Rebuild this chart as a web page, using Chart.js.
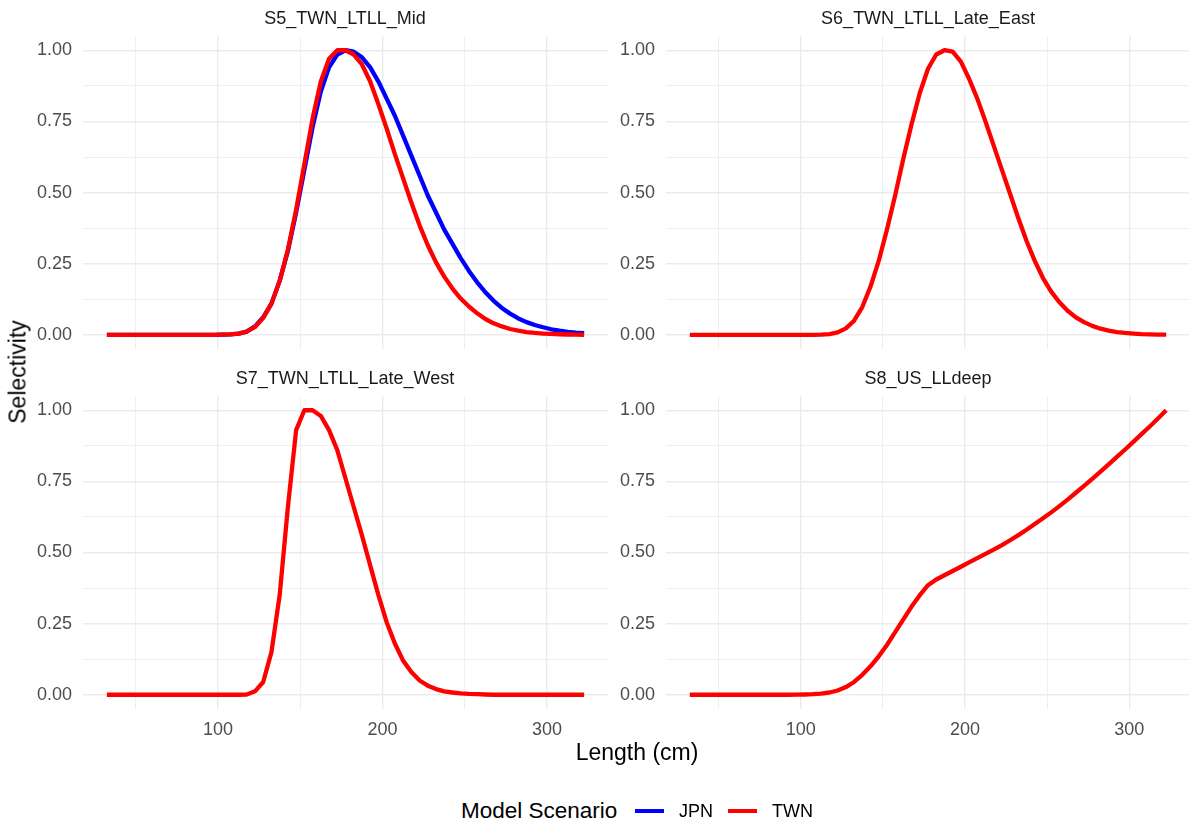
<!DOCTYPE html>
<html>
<head>
<meta charset="utf-8">
<script src="https://cdn.jsdelivr.net/npm/chart.js@4.4.1/dist/chart.umd.min.js"></script>
<style>
  body { margin: 0; background: #fff; overflow: hidden; font-family: "Liberation Sans", Arial, sans-serif; }
  #wrap { position: relative; width: 1189px; height: 829px; }
  canvas { position: absolute; }
  .strip { position: absolute; font-size: 18px; color: #1a1a1a; transform: translate(-50%, -50%); white-space: nowrap; }
  .axt { position: absolute; font-size: 23px; color: #000; white-space: nowrap; transform: translate(-50%, -50%); }
  .lg { position: absolute; white-space: nowrap; transform: translateY(-50%); color: #000; }
  .key { position: absolute; height: 4px; width: 29px; transform: translateY(-50%); }
</style>
</head>
<body>
<div id="wrap">
  <canvas id="p5" width="608" height="371" style="left:0;top:0"></canvas>
  <canvas id="p6" width="600" height="371" style="left:590px;top:0"></canvas>
  <canvas id="p7" width="608" height="380" style="left:0;top:360px"></canvas>
  <canvas id="p8" width="600" height="380" style="left:590px;top:360px"></canvas>

  <div class="strip" style="left:345px;top:18px">S5_TWN_LTLL_Mid</div>
  <div class="strip" style="left:928px;top:18px">S6_TWN_LTLL_Late_East</div>
  <div class="strip" style="left:345px;top:378px">S7_TWN_LTLL_Late_West</div>
  <div class="strip" style="left:928px;top:378px">S8_US_LLdeep</div>

  <div class="axt" style="left:637px;top:752px">Length (cm)</div>
  <div class="axt" style="left:18px;top:372px;transform:translate(-50%,-50%) rotate(-90deg)">Selectivity</div>

  <div class="lg" style="left:461px;top:811px;font-size:22.5px">Model Scenario</div>
  <div class="key" style="left:635px;top:811px;background:#0000ff"></div>
  <div class="lg" style="left:679px;top:811px;font-size:18px">JPN</div>
  <div class="key" style="left:728px;top:811px;background:#ff0000"></div>
  <div class="lg" style="left:772px;top:811px;font-size:18px">TWN</div>
</div>
<script>
// length bins (cm)
var lengths = [32.5, 37.5, 42.5, 47.5, 52.5, 57.5, 62.5, 67.5, 72.5, 77.5,
  82.5, 87.5, 92.5, 97.5, 102.5, 107.5, 112.5, 117.5, 122.5, 127.5,
  132.5, 137.5, 142.5, 147.5, 152.5, 157.5, 162.5, 167.5, 172.5, 177.5,
  182.5, 187.5, 192.5, 197.5, 202.5, 207.5, 212.5, 217.5, 222.5, 227.5,
  232.5, 237.5, 242.5, 247.5, 252.5, 257.5, 262.5, 267.5, 272.5, 277.5,
  282.5, 287.5, 292.5, 297.5, 302.5, 307.5, 312.5, 317.5, 322.5];

var s5_jpn = [0, 0, 0, 0, 0, 0, 0, 0, 0, 0,
  0, 0, 0, 0, 0.001, 0.002, 0.005, 0.012, 0.03, 0.062,
  0.11, 0.19, 0.295, 0.43, 0.58, 0.73, 0.855, 0.94, 0.985, 1.0,
  0.995, 0.975, 0.94, 0.89, 0.83, 0.77, 0.70, 0.63, 0.56, 0.49,
  0.43, 0.37, 0.32, 0.27, 0.225, 0.185, 0.15, 0.12, 0.095, 0.075,
  0.058, 0.045, 0.035, 0.027, 0.02, 0.015, 0.011, 0.008, 0.006];

var s5_twn = [0, 0, 0, 0, 0, 0, 0, 0, 0, 0,
  0, 0, 0, 0, 0.001, 0.002, 0.005, 0.012, 0.028, 0.06,
  0.11, 0.19, 0.30, 0.44, 0.60, 0.76, 0.89, 0.97, 1.0, 1.0,
  0.985, 0.95, 0.89, 0.81, 0.725, 0.635, 0.55, 0.465, 0.385, 0.315,
  0.255, 0.205, 0.163, 0.128, 0.10, 0.076, 0.056, 0.041, 0.03, 0.021,
  0.015, 0.01, 0.007, 0.005, 0.0035, 0.0025, 0.0017, 0.0012, 0.0008];

var s6_twn = [0, 0, 0, 0, 0, 0, 0, 0, 0, 0,
  0, 0, 0, 0, 0, 0.0005, 0.001, 0.003, 0.009, 0.023,
  0.05, 0.098, 0.17, 0.26, 0.37, 0.49, 0.62, 0.74, 0.85, 0.935,
  0.985, 1.0, 0.995, 0.96, 0.90, 0.83, 0.75, 0.665, 0.58, 0.495,
  0.41, 0.33, 0.26, 0.20, 0.152, 0.115, 0.085, 0.062, 0.045, 0.032,
  0.022, 0.015, 0.01, 0.007, 0.005, 0.003, 0.002, 0.0015, 0.001];

var s7_twn = [0, 0, 0, 0, 0, 0, 0, 0, 0, 0,
  0, 0, 0, 0, 0, 0, 0, 0.001, 0.012, 0.045,
  0.15, 0.35, 0.66, 0.93, 1.0, 1.0, 0.98, 0.93, 0.86, 0.76,
  0.66, 0.56, 0.455, 0.35, 0.255, 0.18, 0.12, 0.08, 0.05, 0.032,
  0.02, 0.012, 0.008, 0.005, 0.003, 0.002, 0.001, 0, 0, 0,
  0, 0, 0, 0, 0, 0, 0, 0, 0];

var s8_twn = [0, 0, 0, 0, 0, 0, 0, 0, 0, 0,
  0, 0, 0, 0.0005, 0.001, 0.002, 0.004, 0.008, 0.015, 0.027,
  0.045, 0.07, 0.1, 0.135, 0.175, 0.22, 0.265, 0.31, 0.35, 0.385,
  0.405, 0.42, 0.435, 0.45, 0.465, 0.48, 0.495, 0.51, 0.526, 0.543,
  0.561, 0.58, 0.60, 0.62, 0.641, 0.663, 0.686, 0.71, 0.734, 0.759,
  0.784, 0.81, 0.836, 0.862, 0.889, 0.916, 0.943, 0.971, 1.0];

var xTicks = [50, 100, 150, 200, 250, 300];
var yTicks = [0, 0.125, 0.25, 0.375, 0.5, 0.625, 0.75, 0.875, 1];

var JPN_COLOR = '#0000ff', TWN_COLOR = '#ff0000';
var FONT = "'Liberation Sans', Arial, sans-serif";

function pts(vals) {
    var out = [];
    for (var i = 0; i < lengths.length; i++) {
        out.push({x: lengths[i], y: vals[i]});
    }
    return out;
}

function series(label, vals, color, order) {
    return {
        label: label,
        data: pts(vals),
        borderColor: color,
        backgroundColor: color,
        borderWidth: 4.3,
        borderJoinStyle: 'round',
        pointRadius: 0,
        tension: 0,
        order: order
    };
}

function isMajor(v, step) {
    return Math.abs(v / step - Math.round(v / step)) < 1e-6;
}

function makePanel(id, datasets, yWidth, topPad, xHeight, showX) {
    var ctx = document.getElementById(id);
    return new Chart(ctx, {
        type: 'line',
        data: { datasets: datasets },
        options: {
            responsive: false,
            animation: false,
            layout: { padding: { top: topPad, right: 0, bottom: 0, left: 0 } },
            plugins: { legend: { display: false }, tooltip: { enabled: false } },
            scales: {
                x: {
                    type: 'linear',
                    min: 18,
                    max: 337,
                    afterBuildTicks: function (scale) {
                        scale.ticks = xTicks.map(function (v) { return {value: v}; });
                    },
                    afterFit: function (scale) { scale.height = xHeight; },
                    border: { display: false },
                    grid: {
                        drawTicks: false,
                        color: '#ebebeb',
                        lineWidth: function (c) { return isMajor(c.tick.value, 100) ? 1.4 : 0.8; }
                    },
                    ticks: {
                        display: showX,
                        padding: 10,
                        color: '#4d4d4d',
                        font: { family: FONT, size: 18 },
                        maxRotation: 0,
                        callback: function (v) { return isMajor(v, 100) ? String(v) : ''; }
                    }
                },
                y: {
                    type: 'linear',
                    min: -0.05,
                    max: 1.05,
                    afterBuildTicks: function (scale) {
                        scale.ticks = yTicks.map(function (v) { return {value: v}; });
                    },
                    afterFit: function (scale) { scale.width = yWidth; },
                    border: { display: false },
                    grid: {
                        drawTicks: false,
                        color: '#ebebeb',
                        lineWidth: function (c) { return isMajor(c.tick.value, 0.25) ? 1.4 : 0.8; }
                    },
                    ticks: {
                        padding: 11,
                        color: '#4d4d4d',
                        font: { family: FONT, size: 18 },
                        callback: function (v) { return isMajor(v, 0.25) ? v.toFixed(2) : ''; }
                    }
                }
            }
        }
    });
}

makePanel('p5', [series('JPN', s5_jpn, JPN_COLOR, 2), series('TWN', s5_twn, TWN_COLOR, 1)], 83, 36, 12, false);
makePanel('p6', [series('TWN', s6_twn, TWN_COLOR, 1)], 76, 36, 12, false);
makePanel('p7', [series('TWN', s7_twn, TWN_COLOR, 1)], 83, 36, 31, true);
makePanel('p8', [series('TWN', s8_twn, TWN_COLOR, 1)], 76, 36, 31, true);
</script>
</body>
</html>
